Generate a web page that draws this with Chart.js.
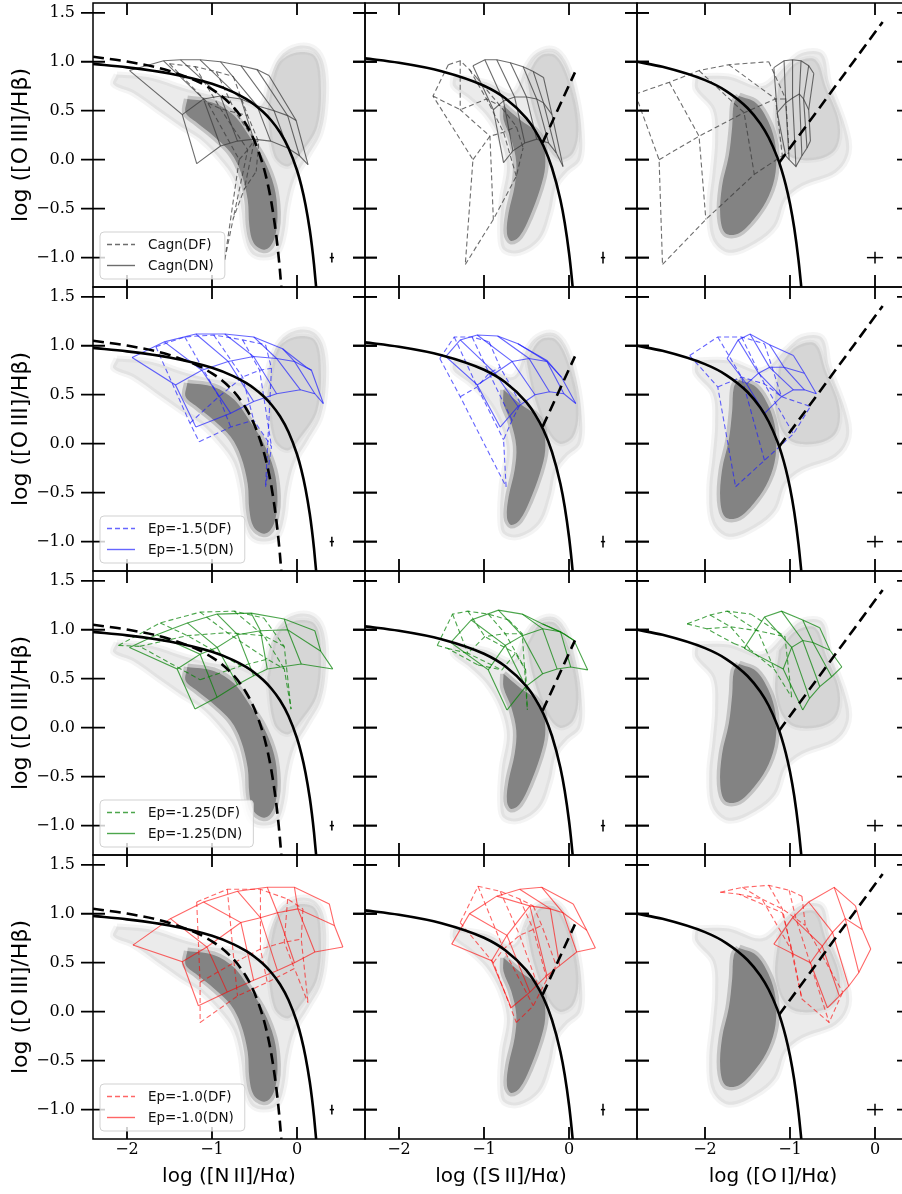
<!DOCTYPE html>
<html>
<head>
<meta charset="utf-8">
<script src="https://cdn.jsdelivr.net/npm/chart.js@4.4.1/dist/chart.umd.min.js"></script>
<style>
  html, body { margin: 0; padding: 0; background: #fff; overflow: hidden; width: 902px; height: 1194px; }
  body { position: relative; }
  canvas { position: absolute; }
</style>
</head>
<body>
<script>
/* BPT diagrams: 4 model rows x 3 line-ratio columns, one Chart.js chart per panel.
   Values below (data units). */

// axes --------------------------------------------------------------------
var XTICKS = [-2, -1, 0];
var YTICKS = [-1.0, -0.5, 0.0, 0.5, 1.0, 1.5];
var XRANGES = [[-2.4, 0.8], [-2.4, 0.8], [-2.8, 0.4]];
var YRANGE = [-1.3, 1.6];
var XLABELS = ["log ([N\u2009II]/H\u03b1)", "log ([S\u2009II]/H\u03b1)", "log ([O\u2009I]/H\u03b1)"];
var YLABEL = "log ([O\u2009III]/H\u03b2)";
var MODELS = ["Cagn", "Ep=-1.5", "Ep=-1.25", "Ep=-1.0"];

// demarcation lines -------------------------------------------------------
var ke01_nii = [[-2.4,0.978],[-2.0,0.943],[-1.5,0.880],[-1.0,0.775],[-0.75,0.690],[-0.6,0.620],[-0.5,0.561],[-0.4,0.489],[-0.3,0.398],[-0.2,0.280],[-0.1,0.120],[0.0,-0.108],[0.05,-0.262],[0.1,-0.459],[0.15,-0.716],[0.175,-0.878],[0.2,-1.069],[0.225,-1.300],[0.235,-1.40]];
var ka03_nii = [[-2.4,1.051],[-2.0,1.002],[-1.5,0.906],[-1.0,0.719],[-0.75,0.538],[-0.6,0.362],[-0.5,0.191],[-0.4,-0.056],[-0.35,-0.225],[-0.3,-0.443],[-0.25,-0.733],[-0.22,-0.959],[-0.2,-1.140],[-0.18,-1.352]];
var ke01_sii = [[-2.4,1.035],[-2.0,0.990],[-1.5,0.904],[-1.0,0.755],[-0.75,0.627],[-0.5,0.422],[-0.4,0.300],[-0.3,0.139],[-0.2,-0.085],[-0.1,-0.414],[-0.05,-0.646],[0.0,-0.950],[0.03,-1.183],[0.05,-1.367]];
var ke06_sii = [[-0.31,0.174],[0.07,0.892]];
var ke01_oi = [[-2.8,1.0],[-2.5,0.948],[-2.0,0.812],[-1.75,0.701],[-1.5,0.528],[-1.35,0.369],[-1.25,0.224],[-1.15,0.026],[-1.1,-0.101],[-1.05,-0.257],[-1.0,-0.450],[-0.95,-0.698],[-0.9,-1.025],[-0.87,-1.277],[-0.86,-1.374]];
var ke06_oi = [[-1.13,-0.033],[0.09,1.406]];

// typical error bars: [x, y, dx, dy]
var err_nii = [0.41, -1.0, 0.025, 0.05];
var err_sii = [0.40, -1.0, 0.025, 0.06];
var err_oi = [0.0, -1.0, 0.095, 0.06];

// galaxy sample outlines (sparse halo, AGN wing, dense star-forming core)
var nii_halo = [[-2.12,0.87],[-1.73,0.84],[-1.29,0.72],[-0.94,0.65],[-0.66,0.62],[-0.43,0.55],[-0.31,0.85],[-0.19,1.06],[0.01,1.16],[0.21,1.13],[0.32,0.96],[0.34,0.62],[0.28,0.28],[0.13,0.04],[-0.03,-0.20],[-0.11,-0.47],[-0.15,-0.75],[-0.23,-0.95],[-0.39,-1.00],[-0.54,-0.95],[-0.62,-0.75],[-0.66,-0.47],[-0.74,-0.20],[-0.90,0.00],[-1.14,0.21],[-1.37,0.34],[-1.65,0.51],[-1.93,0.68],[-2.16,0.77],[-2.12,0.87]];
var nii_agn = [[-0.35,0.51],[-0.23,0.96],[-0.03,1.09],[0.21,1.06],[0.28,0.79],[0.24,0.34],[0.05,0.07],[-0.11,-0.07],[-0.27,0.04],[-0.35,0.51]];
var nii_core = [[-1.29,0.62],[-0.98,0.58],[-0.74,0.45],[-0.54,0.21],[-0.39,0.00],[-0.27,-0.27],[-0.23,-0.54],[-0.25,-0.75],[-0.31,-0.88],[-0.39,-0.92],[-0.51,-0.85],[-0.56,-0.68],[-0.58,-0.41],[-0.66,-0.13],[-0.78,0.07],[-0.98,0.24],[-1.18,0.38],[-1.31,0.48],[-1.29,0.62]];
var sii_halo = [[-1.36,0.85],[-0.97,0.79],[-0.66,0.68],[-0.50,0.96],[-0.38,1.09],[-0.18,1.13],[-0.03,0.99],[0.09,0.65],[0.15,0.28],[0.13,0.00],[-0.03,-0.13],[-0.15,-0.27],[-0.22,-0.54],[-0.34,-0.81],[-0.58,-0.95],[-0.77,-0.92],[-0.81,-0.75],[-0.79,-0.41],[-0.73,-0.07],[-0.81,0.21],[-0.97,0.45],[-1.17,0.62],[-1.36,0.75],[-1.36,0.85]];
var sii_agn = [[-0.50,0.85],[-0.34,1.06],[-0.15,1.06],[0.01,0.79],[0.11,0.34],[0.05,0.07],[-0.11,0.00],[-0.26,0.14],[-0.42,0.51],[-0.50,0.85]];
var sii_core = [[-0.77,0.55],[-0.58,0.41],[-0.38,0.28],[-0.30,0.14],[-0.28,-0.07],[-0.34,-0.30],[-0.46,-0.58],[-0.58,-0.78],[-0.68,-0.83],[-0.73,-0.75],[-0.71,-0.54],[-0.64,-0.27],[-0.62,-0.03],[-0.68,0.21],[-0.77,0.41],[-0.77,0.55]];
var oi_halo = [[-2.11,0.85],[-1.72,0.85],[-1.33,0.75],[-1.05,0.96],[-0.86,1.09],[-0.62,1.08],[-0.54,0.79],[-0.35,0.34],[-0.31,0.07],[-0.46,-0.13],[-0.86,-0.27],[-1.05,-0.41],[-1.17,-0.68],[-1.40,-0.85],[-1.72,-0.95],[-1.91,-0.81],[-1.95,-0.47],[-1.91,-0.13],[-1.88,0.21],[-1.91,0.51],[-2.11,0.72],[-2.11,0.85]];
var oi_agn = [[-1.13,0.79],[-0.93,0.99],[-0.70,1.02],[-0.58,0.75],[-0.42,0.38],[-0.46,0.11],[-0.70,0.00],[-1.01,0.04],[-1.17,0.34],[-1.13,0.79]];
var oi_core = [[-1.60,0.65],[-1.40,0.58],[-1.25,0.38],[-1.17,0.14],[-1.17,-0.13],[-1.25,-0.37],[-1.40,-0.58],[-1.60,-0.75],[-1.76,-0.75],[-1.82,-0.58],[-1.80,-0.27],[-1.72,0.04],[-1.68,0.34],[-1.66,0.58],[-1.60,0.65]];

// model grids: rows of grid nodes [x, y]; lines run along rows and columns
var nii_cagn_dn = [[[-1.97,0.91],[-1.57,1.01],[-1.37,1.02],[-1.14,1.02],[-0.90,1.00],[-0.66,0.96],[-0.47,0.92],[-0.33,0.86]],
                   [[-1.35,0.46],[-1.10,0.62],[-0.90,0.65],[-0.66,0.62],[-0.47,0.55],[-0.27,0.50],[-0.11,0.45],[-0.01,0.40]],
                   [[-1.18,-0.04],[-0.90,0.14],[-0.70,0.19],[-0.51,0.21],[-0.31,0.19],[-0.11,0.12],[0.03,0.04],[0.13,-0.05]]];
var nii_cagn_df = [[[-1.50,0.98],[-1.20,0.95],[-0.95,0.90],[-0.75,0.85]],
                   [[-1.05,0.58],[-0.90,0.52],[-0.72,0.48],[-0.58,0.45]],
                   [[-0.68,0.00],[-0.58,0.10],[-0.50,0.20],[-0.45,0.18]],
                   [[-0.85,-1.02],[-0.75,-0.60],[-0.62,-0.30],[-0.48,-0.12]]];
var sii_cagn_dn = [[[-1.13,0.96],[-0.99,1.02],[-0.85,1.02],[-0.69,0.99],[-0.54,0.95],[-0.42,0.90],[-0.30,0.84]],
                   [[-0.89,0.51],[-0.77,0.60],[-0.64,0.64],[-0.50,0.64],[-0.38,0.62],[-0.30,0.58],[-0.20,0.46]],
                   [[-0.77,-0.03],[-0.66,0.09],[-0.52,0.17],[-0.38,0.21],[-0.24,0.17],[-0.15,0.07],[-0.07,-0.07]]];
var sii_cagn_df = [[[-1.42,0.97],[-1.28,1.01],[-1.17,0.92],[-1.09,0.84]],
                   [[-1.60,0.65],[-1.28,0.51],[-0.97,0.62],[-0.81,0.55]],
                   [[-1.13,0.00],[-0.93,0.24],[-0.77,0.28],[-0.62,0.34]],
                   [[-1.22,-1.07],[-0.89,-0.61],[-0.62,-0.17],[-0.54,0.12]]];
var oi_cagn_dn = [[[-1.19,0.94],[-1.07,1.01],[-0.97,1.02],[-0.87,1.01],[-0.78,0.96],[-0.72,0.88]],
                  [[-1.15,0.48],[-1.05,0.58],[-0.97,0.63],[-0.89,0.67],[-0.84,0.62],[-0.78,0.51]],
                  [[-1.05,0.04],[-1.01,0.00],[-0.93,-0.07],[-0.86,0.04],[-0.80,0.12],[-0.76,0.19]]];
var oi_cagn_df = [[[-2.82,0.67],[-2.42,0.79],[-2.07,0.91],[-1.72,0.97],[-1.25,1.00]],
                  [[-2.54,0.00],[-2.07,0.24],[-1.54,0.48],[-1.17,0.62],[-1.05,0.62]],
                  [[-2.50,-1.07],[-1.99,-0.61],[-1.42,-0.15],[-1.09,0.04],[-1.01,0.07]]];

var nii_ep15_dn = [[[-1.94,0.88],[-1.56,1.04],[-1.19,1.12],[-0.85,1.12],[-0.51,1.09],[-0.17,0.97],[0.11,0.78]],
                   [[-1.43,0.60],[-1.12,0.75],[-0.81,0.84],[-0.51,0.89],[-0.24,0.87],[-0.03,0.84],[0.17,0.75]],
                   [[-1.19,0.17],[-0.78,0.31],[-0.51,0.43],[-0.24,0.51],[0.04,0.55],[0.21,0.51],[0.31,0.41]]];
var nii_ep15_df = [[[-1.66,0.99],[-1.32,1.09],[-0.98,1.11],[-0.64,1.06],[-0.37,1.01]],
                   [[-1.26,0.21],[-0.92,0.48],[-0.64,0.68],[-0.44,0.75],[-0.30,0.77]],
                   [[-1.15,0.02],[-0.78,0.17],[-0.51,0.24],[-0.30,-0.03],[-0.37,-0.44]]];
var sii_ep15_dn = [[[-1.45,0.89],[-1.28,1.06],[-1.08,1.11],[-0.84,1.10],[-0.60,1.02],[-0.26,0.85]],
                   [[-1.08,0.60],[-0.87,0.72],[-0.67,0.84],[-0.47,0.87],[-0.26,0.84],[-0.09,0.68]],
                   [[-0.81,0.17],[-0.60,0.38],[-0.40,0.50],[-0.23,0.53],[-0.06,0.51],[0.08,0.41]]];
var sii_ep15_df = [[[-1.52,0.87],[-1.35,1.09],[-1.14,1.09],[-0.94,1.04]],
                   [[-1.28,0.48],[-1.08,0.58],[-0.94,0.72],[-0.81,0.78]],
                   [[-0.74,-0.44],[-0.77,0.04],[-0.67,0.24],[-0.57,0.41]]];
var oi_ep15_dn = [[[-1.74,0.87],[-1.61,1.06],[-1.47,1.12],[-1.24,1.01],[-0.96,0.90]],
                  [[-1.51,0.61],[-1.37,0.72],[-1.24,0.78],[-1.07,0.78],[-0.83,0.72]],
                  [[-1.30,0.31],[-1.10,0.48],[-0.96,0.55],[-0.83,0.55],[-0.69,0.51]]];
var oi_ep15_df = [[[-2.18,0.90],[-1.85,1.09],[-1.57,1.09],[-1.30,1.02]],
                  [[-1.85,0.58],[-1.57,0.68],[-1.30,0.61],[-1.10,0.48]],
                  [[-1.64,-0.44],[-1.30,-0.17],[-0.96,0.10],[-0.76,0.38]]];

var nii_ep125_dn = [[[-1.97,0.82],[-1.65,0.95],[-1.29,1.07],[-0.94,1.16],[-0.54,1.17],[-0.15,1.11],[0.21,0.99]],
                    [[-1.41,0.60],[-1.14,0.75],[-0.94,0.82],[-0.70,0.95],[-0.43,0.99],[-0.11,1.00],[0.28,0.78]],
                    [[-1.20,0.19],[-0.94,0.31],[-0.70,0.44],[-0.51,0.53],[-0.35,0.60],[0.05,0.65],[0.42,0.60]]];
var nii_ep125_df = [[[-2.10,0.84],[-1.61,1.07],[-1.14,1.18],[-0.74,1.19],[-0.39,1.12]],
                    [[-1.85,0.83],[-1.29,0.94],[-0.82,0.97],[-0.39,0.94],[-0.15,0.83]],
                    [[-1.14,0.49],[-0.66,0.63],[-0.35,0.70],[-0.15,0.60],[-0.07,0.19]]];
var sii_ep125_dn = [[[-1.39,0.87],[-1.15,1.10],[-0.83,1.20],[-0.55,1.16],[-0.31,1.06],[-0.06,0.96]],
                    [[-0.95,0.59],[-0.75,0.84],[-0.55,0.94],[-0.31,1.01],[-0.10,0.98],[0.06,0.89]],
                    [[-0.73,0.18],[-0.51,0.42],[-0.31,0.55],[-0.14,0.60],[0.02,0.62],[0.22,0.59]]];
var sii_ep125_df = [[[-1.55,0.84],[-1.37,1.16],[-1.19,1.19],[-0.95,1.16],[-0.71,1.10]],
                    [[-1.43,0.81],[-1.19,0.76],[-0.99,0.93],[-0.75,0.96],[-0.55,0.96]],
                    [[-1.07,0.64],[-0.79,0.59],[-0.63,0.76],[-0.51,0.59],[-0.49,0.18]]];
var oi_ep125_dn = [[[-1.54,0.81],[-1.30,1.13],[-1.10,1.19],[-0.85,1.10],[-0.65,1.02]],
                   [[-1.08,0.60],[-0.98,0.82],[-0.85,0.89],[-0.73,0.87],[-0.53,0.79]],
                   [[-0.85,0.18],[-0.77,0.30],[-0.65,0.42],[-0.51,0.52],[-0.39,0.62]]];
var oi_ep125_df = [[[-2.21,1.06],[-1.94,1.15],[-1.74,1.19],[-1.46,1.16]],
                   [[-1.98,1.01],[-1.70,1.03],[-1.38,0.99],[-1.06,0.93]],
                   [[-1.66,0.86],[-1.46,0.79],[-1.18,0.59],[-0.98,0.31]]];

var nii_ep10_dn = [[[-1.93,0.68],[-1.49,0.95],[-1.10,1.12],[-0.70,1.23],[-0.35,1.27],[-0.03,1.27],[0.38,1.10]],
                   [[-1.35,0.51],[-1.06,0.66],[-0.66,0.91],[-0.43,0.96],[-0.23,1.01],[0.01,1.05],[0.44,0.88]],
                   [[-1.16,0.06],[-0.82,0.20],[-0.51,0.32],[-0.23,0.42],[-0.03,0.50],[0.21,0.61],[0.54,0.66]]];
var nii_ep10_df = [[[-1.18,1.12],[-0.82,1.25],[-0.43,1.25],[-0.11,1.15],[0.07,1.05]],
                   [[-1.14,0.30],[-0.74,0.50],[-0.43,0.64],[-0.15,0.71],[0.05,0.74]],
                   [[-1.14,-0.11],[-0.70,0.16],[-0.35,0.30],[-0.03,0.44],[0.13,0.09]]];
var sii_ep10_dn = [[[-1.38,0.69],[-1.17,1.00],[-0.85,1.18],[-0.58,1.25],[-0.32,1.27],[0.05,1.10]],
                   [[-0.91,0.52],[-0.73,0.78],[-0.46,1.08],[-0.22,1.05],[-0.07,1.01],[0.21,0.83]],
                   [[-0.68,0.04],[-0.46,0.20],[-0.26,0.37],[-0.11,0.47],[0.09,0.61],[0.31,0.65]]];
var sii_ep10_df = [[[-1.28,0.91],[-1.07,1.28],[-0.81,1.23],[-0.58,1.15],[-0.42,1.08]],
                   [[-0.89,0.50],[-0.77,0.64],[-0.58,0.78],[-0.42,0.84],[-0.32,0.88]],
                   [[-0.62,-0.11],[-0.42,0.06],[-0.34,0.20],[-0.26,0.33],[-0.15,0.47]]];
var oi_ep10_dn = [[[-1.19,0.69],[-0.97,0.96],[-0.78,1.12],[-0.48,1.27],[-0.23,1.08]],
                  [[-0.76,0.50],[-0.62,0.67],[-0.50,0.81],[-0.35,0.95],[-0.15,0.84]],
                  [[-0.56,0.04],[-0.42,0.16],[-0.31,0.26],[-0.19,0.40],[-0.05,0.64]]];
var oi_ep10_df = [[[-1.82,1.22],[-1.56,1.27],[-1.25,1.29],[-1.01,1.24],[-0.86,1.18]],
                  [[-1.60,1.20],[-1.33,1.15],[-1.09,1.05],[-0.93,0.95],[-0.82,0.88]],
                  [[-1.09,1.01],[-0.97,0.61],[-0.86,0.13],[-0.54,-0.11],[-0.38,0.20]]];

(function () {
  if (typeof Chart === "undefined") return;

  // layout (px) -----------------------------------------------------------
  var COL_LEFT = [93, 365, 637], ROW_TOP = [3, 287, 571, 855];
  var W = 272, H = 284, TICK = 12;
  var MODEL_COLORS = ["rgba(60,60,60,0.75)", "rgba(30,30,255,0.68)", "rgba(0,128,0,0.7)", "rgba(255,0,0,0.6)"];
  var GRIDS = [
    [[nii_cagn_df, nii_cagn_dn], [sii_cagn_df, sii_cagn_dn], [oi_cagn_df, oi_cagn_dn]],
    [[nii_ep15_df, nii_ep15_dn], [sii_ep15_df, sii_ep15_dn], [oi_ep15_df, oi_ep15_dn]],
    [[nii_ep125_df, nii_ep125_dn], [sii_ep125_df, sii_ep125_dn], [oi_ep125_df, oi_ep125_dn]],
    [[nii_ep10_df, nii_ep10_dn], [sii_ep10_df, sii_ep10_dn], [oi_ep10_df, oi_ep10_dn]]
  ];
  var CLOUDS = [[nii_halo, nii_agn, nii_core], [sii_halo, sii_agn, sii_core], [oi_halo, oi_agn, oi_core]];
  var CURVES = [[ke01_nii, ka03_nii], [ke01_sii, ke06_sii], [ke01_oi, ke06_oi]];
  var ERRS = [err_nii, err_sii, err_oi];

  Chart.defaults.font.family = "'DejaVu Sans', sans-serif";
  Chart.defaults.color = "#000";

  function pts(a) { return a.map(function (p) { return {x: p[0], y: p[1]}; }); }
  function fmt(v, dec) { return v.toFixed(dec).replace("-", "\u2212"); }

  function lineSet(a, color, dashed) {
    return {data: pts(a), borderColor: color, borderWidth: 1.1, borderDash: dashed ? [5, 3] : [],
            pointRadius: 0, fill: false, tension: 0, order: 5};
  }
  function meshSets(mesh, color, dashed) {
    var out = [], i, j;
    for (i = 0; i < mesh.length; i++) out.push(lineSet(mesh[i], color, dashed));
    for (j = 0; j < mesh[0].length; j++) out.push(lineSet(mesh.map(function (r) { return r[j]; }), color, dashed));
    return out;
  }
  function cloudSet(a, fillCol, edge, edgeW) {
    return {data: pts(a), fill: "shape", backgroundColor: fillCol, borderColor: edge, borderWidth: edgeW,
            pointRadius: 0, tension: 0.35, order: 10};
  }
  function curveSet(a, dashed) {
    return {data: pts(a), borderColor: "#000", borderWidth: 2.6, borderDash: dashed ? [11, 6] : [],
            pointRadius: 0, fill: false, cubicInterpolationMode: "monotone", order: 3};
  }

  function roundRect(ctx, x, y, w, h, r) {
    ctx.beginPath();
    ctx.moveTo(x + r, y);
    ctx.arcTo(x + w, y, x + w, y + h, r);
    ctx.arcTo(x + w, y + h, x, y + h, r);
    ctx.arcTo(x, y + h, x, y, r);
    ctx.arcTo(x, y, x + w, y, r);
    ctx.closePath();
  }

  // spines + ticks pointing in (x) and in/out (y) ----------------------------
  var framePlugin = {
    id: "frame",
    afterDraw: function (chart) {
      var ctx = chart.ctx, a = chart.chartArea, xs = chart.scales.x, ys = chart.scales.y;
      ctx.save();
      ctx.strokeStyle = "#000";
      ctx.lineWidth = 1.5;
      ctx.strokeRect(a.left, a.top, a.right - a.left, a.bottom - a.top);
      ctx.lineWidth = 1.8;
      ctx.beginPath();
      ys.ticks.forEach(function (t) {
        var py = ys.getPixelForValue(t.value);
        ctx.moveTo(a.left - TICK, py); ctx.lineTo(a.left + TICK, py);
        ctx.moveTo(a.right - TICK, py); ctx.lineTo(a.right + TICK, py);
      });
      xs.ticks.forEach(function (t) {
        var px = xs.getPixelForValue(t.value);
        ctx.moveTo(px, a.bottom); ctx.lineTo(px, a.bottom - TICK);
        ctx.moveTo(px, a.top); ctx.lineTo(px, a.top + TICK);
      });
      ctx.stroke();
      ctx.restore();
    }
  };

  // legend box in the lower left corner ---------------------------------------
  var legendPlugin = {
    id: "legendBox",
    afterDraw: function (chart, args, o) {
      if (!o || !o.items) return;
      var ctx = chart.ctx, a = chart.chartArea;
      ctx.save();
      ctx.font = "13.5px 'DejaVu Sans'";
      var tw = 0;
      o.items.forEach(function (it) { tw = Math.max(tw, ctx.measureText(it.text).width); });
      var x0 = a.left + 7, y0 = a.top + 229;
      roundRect(ctx, x0, y0, tw + 59, 47, 4);
      ctx.fillStyle = "rgba(255,255,255,0.8)";
      ctx.fill();
      ctx.strokeStyle = "rgba(204,204,204,0.9)";
      ctx.lineWidth = 1;
      ctx.stroke();
      o.items.forEach(function (it, k) {
        var yy = y0 + 12.5 + k * 21;
        ctx.beginPath();
        ctx.setLineDash(it.dashed ? [5, 3] : []);
        ctx.strokeStyle = it.color;
        ctx.lineWidth = 1.4;
        ctx.moveTo(a.left + 14, yy); ctx.lineTo(a.left + 42, yy);
        ctx.stroke();
        ctx.setLineDash([]);
        ctx.fillStyle = "#111";
        ctx.textBaseline = "middle";
        ctx.fillText(it.text, a.left + 55, yy + 0.5);
      });
      ctx.restore();
    }
  };

  function panel(r, c) {
    var ml = c === 0 ? 93 : 14, mr = 14, mt = 14, mb = r === 3 ? 56 : 14;
    var cv = document.createElement("canvas");
    cv.width = ml + W + mr; cv.height = mt + H + mb;
    cv.style.left = (COL_LEFT[c] - ml) + "px";
    cv.style.top = (ROW_TOP[r] - mt) + "px";
    document.body.appendChild(cv);

    var color = MODEL_COLORS[r], g = GRIDS[r][c], cl = CLOUDS[c], cu = CURVES[c], e = ERRS[c];
    var sets = [];
    sets.push(cloudSet(cl[0], "rgba(128,128,128,0.16)", "rgba(128,128,128,0.09)", 6));
    sets.push(cloudSet(cl[1], "rgba(128,128,128,0.20)", "rgba(128,128,128,0.08)", 5));
    sets.push(cloudSet(cl[2], "rgb(132,132,132)", "rgba(132,132,132,0.38)", 7));
    sets.push(curveSet(cu[0], false));
    sets.push(curveSet(cu[1], true));
    sets = sets.concat(meshSets(g[0], color, true), meshSets(g[1], color, false));
    sets.push({data: pts([[e[0] - e[2], e[1]], [e[0] + e[2], e[1]]]), borderColor: "#000", borderWidth: 1.5, pointRadius: 0, order: 1});
    sets.push({data: pts([[e[0], e[1] - e[3]], [e[0], e[1] + e[3]]]), borderColor: "#000", borderWidth: 1.5, pointRadius: 0, order: 1});

    var legendItems = c === 0 ? [
      {text: MODELS[r] + "(DF)", dashed: true, color: color},
      {text: MODELS[r] + "(DN)", dashed: false, color: color}
    ] : null;

    new Chart(cv, {
      type: "line",
      data: {datasets: sets},
      plugins: [framePlugin, legendPlugin],
      options: {
        responsive: false,
        animation: false,
        events: [],
        layout: {padding: {top: mt, right: mr, bottom: 0, left: 0}},
        plugins: {legend: {display: false}, tooltip: {enabled: false}, legendBox: {items: legendItems}},
        scales: {
          x: {
            type: "linear", position: "bottom", min: XRANGES[c][0], max: XRANGES[c][1],
            grid: {display: false, drawTicks: false}, border: {display: false},
            ticks: {display: r === 3, padding: 1, maxRotation: 0, autoSkip: false,
                    font: {family: "'DejaVu Serif', serif", size: 16},
                    callback: function (v) { return fmt(v, 0); }},
            afterBuildTicks: function (s) { s.ticks = XTICKS.map(function (v) { return {value: v}; }); },
            afterFit: function (s) { s.height = mb; s.paddingLeft = 0; s.paddingRight = 0; },
            title: {display: r === 3, text: XLABELS[c], font: {size: 20}, padding: {top: 0, bottom: 6}}
          },
          y: {
            type: "linear", position: "left", min: YRANGE[0], max: YRANGE[1],
            grid: {display: false, drawTicks: false}, border: {display: false},
            ticks: {display: c === 0, padding: 18, autoSkip: false,
                    font: {family: "'DejaVu Serif', serif", size: 16},
                    callback: function (v) { return fmt(v, 1); }},
            afterBuildTicks: function (s) { s.ticks = YTICKS.map(function (v) { return {value: v}; }); },
            afterFit: function (s) { s.width = ml; s.paddingTop = 0; s.paddingBottom = 0; },
            title: {display: c === 0, text: YLABEL, font: {size: 22}, padding: {top: 8, bottom: 0}}
          }
        }
      }
    });
  }

  for (var r = 0; r < 4; r++) for (var c = 0; c < 3; c++) panel(r, c);
})();
</script>
</body>
</html>
